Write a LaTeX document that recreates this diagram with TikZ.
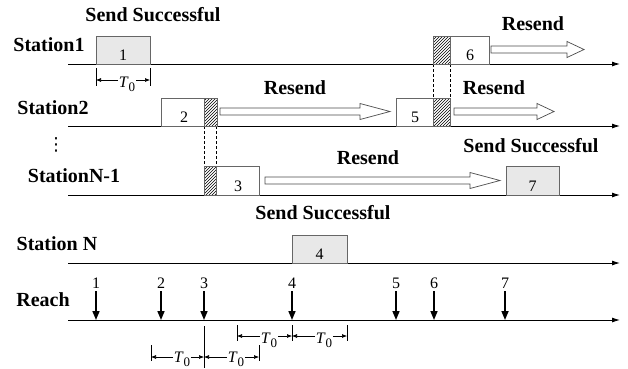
\documentclass[tikz,border=0pt]{standalone}
\usepackage{fontspec}
\setmainfont{Liberation Serif}
\newfontfamily\dvfont{DejaVu Sans}
\usetikzlibrary{patterns,arrows.meta}
\begin{document}
\begin{tikzpicture}[x=1pt,y=-1pt,
 lbl/.style={font=\fontsize{20}{22}\selectfont\bfseries, inner sep=0pt},
 num/.style={font=\fontsize{16}{18}\selectfont, inner sep=0pt, anchor=base},
 tl/.style={font=\fontsize{16}{18}\selectfont, inner sep=0.5pt, anchor=base},
 axis/.style={line width=0.9pt, -{Latex[length=8pt,width=5pt]}},
 gbox/.style={draw=black!60, fill=black!9, line width=0.8pt},
 wbox/.style={draw=black!60, fill=white, line width=0.8pt},
 hatch/.style={draw=black!60, pattern=north east lines, line width=0.8pt},
 hollow/.style={draw=black!70, fill=white, line width=0.7pt},
 reach/.style={line width=1.6pt, -{Triangle[length=9pt,width=7pt]}},
 dim/.style={line width=0.6pt, -{Latex[length=5pt,width=4pt]}},
 tick/.style={line width=0.6pt},
 dsh/.style={line width=0.6pt, dash pattern=on 3pt off 2pt},
 ]
\useasboundingbox (0,0) rectangle (628,368);
\newcommand\Tz{\textit{T}\raisebox{-4pt}{\fontsize{13}{14}\selectfont 0}}
\newcommand\hollowarrow[4]{% x1, xhead, xtip, yc
  \draw[hollow] (#1,#4-3.5) -- (#2,#4-3.5) -- (#2,#4-8) -- (#3,#4) -- (#2,#4+8) -- (#2,#4+3.5) -- (#1,#4+3.5) -- cycle;}

% axes
\foreach \n/\y in {1/64,2/126,3/195,4/263,5/320}{
  \coordinate (s\n) at (68,\y); \coordinate (e\n) at (620,\y);
  \draw[axis] (s\n) -- (e\n);
}

% labels
\node[lbl] (ss1) at (153,15) {Send Successful};
\node[lbl] (st1) at (49,45) {Station1};
\node[lbl] (st2) at (53,108) {Station2};
\node[font=\fontsize{18}{20}\selectfont\dvfont, inner sep=0pt] (vd) at (56,145) {⋮};
\node[lbl] (st3) at (74,176) {StationN-1};
\node[lbl] (st4) at (57,244) {Station N};
\node[lbl] (rch) at (43,300) {Reach};
\node[lbl] (rs1) at (533,24) {Resend};
\node[lbl] (rs2) at (295,88) {Resend};
\node[lbl] (rs3) at (494,88) {Resend};
\node[lbl] (rs4) at (368,158) {Resend};
\node[lbl] (ss2) at (531,146) {Send Successful};
\node[lbl] (ss3) at (323,213) {Send Successful};

% dashed guides
\draw[dsh] (204,126) -- (204,166);
\draw[dsh] (216,126) -- (216,166);
\draw[dsh] (433,64) -- (433,98);
\draw[dsh] (450,64) -- (450,98);

% boxes
\draw[gbox] (96,36) rectangle (150,64);
\node[num] (n1) at (123,60.5) {1};
\draw[wbox] (161,98) rectangle (204,126);
\draw[hatch] (204,98) rectangle (217,126);
\node[num] (n2) at (184,122.5) {2};
\draw[hatch] (204,166) rectangle (216,195);
\draw[wbox] (216,166) rectangle (259,195);
\node[num] (n3) at (238,191.5) {3};
\draw[gbox] (292,235) rectangle (347,263);
\node[num] (n4) at (319.5,259.5) {4};
\draw[wbox] (396,98) rectangle (433,126);
\draw[hatch] (433,98) rectangle (450,126);
\node[num] (n5) at (415,122.5) {5};
\draw[hatch] (433,36) rectangle (450,64);
\draw[wbox] (450,36) rectangle (489,64);
\node[num] (n6) at (470,60.5) {6};
\draw[gbox] (506,166) rectangle (559,195);
\node[num] (n7) at (532.5,191.5) {7};

% hollow arrows
\hollowarrow{491}{567}{584}{49.5}
\hollowarrow{220}{360}{390}{111.5}
\hollowarrow{454}{537}{554}{111.5}
\hollowarrow{265}{470}{500}{180.5}

% reach arrows
\foreach \i/\x in {1/96,2/161,3/204,4/292,5/396,6/434,7/505}{
  \node[num] (r\i) at (\x,288) {\i};
  \coordinate (p\i) at (\x,291);
  \coordinate (q\i) at (\x,320);
  \draw[reach] (p\i) -- (q\i);
}

% T0 dimensions (top)
\draw[tick] (96,68) -- (96,86);
\draw[tick] (150,68) -- (150,86);
\coordinate (da1) at (96,80); \coordinate (da2) at (150,80);
\node[tl] (ta) at (127,87) {\Tz};
\draw[dim] (ta.west |- da1) -- (da1);
\draw[dim] (ta.east |- da2) -- (da2);

% T0 dimensions (row 1)
\draw[tick] (237,325) -- (237,341);
\draw[tick] (292,325) -- (292,341);
\draw[tick] (347,325) -- (347,341);
\coordinate (db1) at (237,336); \coordinate (db2) at (292,336); \coordinate (db3) at (347,336);
\node[tl] (tb1) at (269,343) {\Tz};
\node[tl] (tb2) at (324,343) {\Tz};
\draw[dim] (tb1.west |- db1) -- (db1);
\draw[dim] (tb1.east |- db2) -- (db2);
\draw[dim] (tb2.west |- db2) -- (db2);
\draw[dim] (tb2.east |- db3) -- (db3);

% T0 dimensions (row 2)
\draw[tick] (151,345) -- (151,361);
\draw[tick] (204,326) -- (204,368);
\draw[tick] (259,345) -- (259,361);
\coordinate (dc1) at (151,357); \coordinate (dc2) at (204,357); \coordinate (dc3) at (259,357);
\node[tl] (tc1) at (182,362) {\Tz};
\node[tl] (tc2) at (236,362) {\Tz};
\draw[dim] (tc1.west |- dc1) -- (dc1);
\draw[dim] (tc1.east |- dc2) -- (dc2);
\draw[dim] (tc2.west |- dc2) -- (dc2);
\draw[dim] (tc2.east |- dc3) -- (dc3);
\end{tikzpicture}
\end{document}
